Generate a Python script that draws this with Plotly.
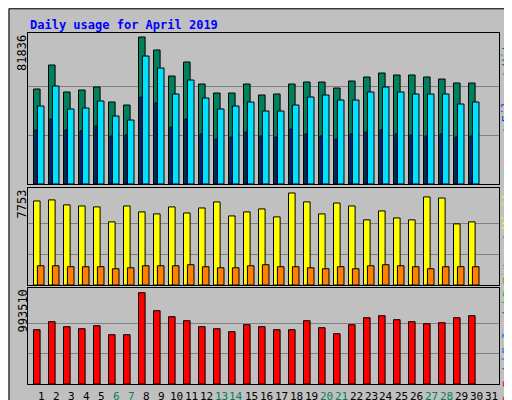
import plotly.graph_objects as go

# Daily usage for April 2019
days = list(range(1, 31))
hits = [52890, 66250, 51220, 52330, 54000, 45650, 43980, 81836, 74600, 60120,
        67920, 55670, 50660, 50660, 55670, 49550, 50100, 55670, 56780, 56780,
        53440, 57340, 59570, 61790, 60680, 60680, 59570, 58450, 56230, 56230]
files = [43420, 54560, 41750, 42310, 46210, 37860, 35630, 71260, 64580, 50100,
         57900, 47880, 41750, 43420, 45650, 40640, 40640, 43980, 48430, 49550,
         46760, 46760, 51220, 54000, 51220, 50100, 50100, 50100, 44540, 45650]
pages = [30060, 36190, 30060, 29510, 32290, 26720, 27280, 48430, 45090, 31730,
         36190, 27840, 25050, 26170, 28950, 26720, 26170, 30620, 27840, 26720,
         25050, 27840, 28950, 30060, 27840, 27280, 26720, 27840, 26170, 26720]
visits = [7080, 7170, 6750, 6660, 6580, 5320, 6660, 6160, 5990, 6580,
          6070, 6490, 7000, 5820, 6160, 6410, 5740, 7753, 7000, 5990,
          6910, 6660, 5490, 6240, 5650, 5490, 7420, 7330, 5150, 5320]
sites = [1620, 1620, 1540, 1540, 1540, 1370, 1450, 1620, 1620, 1620,
         1710, 1540, 1450, 1450, 1620, 1710, 1540, 1540, 1450, 1370,
         1540, 1370, 1620, 1710, 1620, 1540, 1370, 1540, 1540, 1540]
kbytes = [590800, 677800, 623400, 601700, 634300, 536400, 536400, 993510, 797500, 732200,
          688700, 623400, 601700, 569000, 645200, 623400, 590800, 590800, 688700, 612500,
          547300, 645200, 721300, 743100, 699600, 677800, 656100, 666900, 721300, 743100]
day_labels = [str(d) for d in range(1, 32)]
weekend = [6, 7, 13, 14, 20, 21, 27, 28]

FONT = "DejaVu Sans Mono"
BG = "#C0C0C0"

fig = go.Figure()

def bars(y, color, offset, width, axis):
    fig.add_trace(go.Bar(x=days, y=y, marker=dict(color=color, line=dict(color="black", width=1)),
                         offset=offset, width=width, xaxis="x" + axis, yaxis="y" + axis,
                         showlegend=False, hoverinfo="y"))

bars(hits, "#00805C", -0.5, 0.44, "")
bars(files, "#00E0FF", -0.24, 0.44, "")
bars(pages, "#0040FF", -0.4, 0.13, "")
bars(visits, "#FFFF00", -0.5, 0.44, "2")
bars(sites, "#FF8000", -0.24, 0.44, "2")
bars(kbytes, "#FF0000", -0.5, 0.44, "3")

xr = [0.133, 31.533]

xbase = dict(range=xr, showgrid=False, zeroline=False, showline=True, linecolor="black",
             mirror=True, domain=[20 / 512, 491 / 512], fixedrange=True)

def yax(mx, top, dom):
    return dict(range=[0, top], domain=dom, tickvals=[mx / 3, mx * 2 / 3], showticklabels=False,
                gridcolor="#808080", gridwidth=1, zeroline=False, showline=True,
                linecolor="black", mirror=True, ticks="")

fig.update_layout(
    width=512, height=400, margin=dict(l=0, r=0, t=0, b=0),
    paper_bgcolor=BG, plot_bgcolor=BG, barmode="overlay",
    font=dict(family=FONT, size=11, color="black"),
    xaxis=dict(xbase, anchor="y", showticklabels=False),
    xaxis2=dict(xbase, anchor="y2", showticklabels=False),
    xaxis3=dict(xbase, anchor="y3", showticklabels=False),
    yaxis=yax(81836, 84063, [1 - 176 / 400, 1 - 25 / 400]),
    yaxis2=yax(7753, 8174, [1 - 277 / 400, 1 - 180 / 400]),
    yaxis3=yax(993510, 1044650, [1 - 376 / 400, 1 - 280 / 400]),
)

# day labels under the bottom panel
for i, d in enumerate(day_labels):
    fig.add_annotation(text=d, x=i + 1, y=1 - 388 / 400, xref="x3", yref="paper",
                       showarrow=False, xanchor="center", yanchor="middle",
                       font=dict(size=11, family=FONT,
                                 color="#00805C" if int(d) in weekend else "black"))

fig.add_annotation(text="<b>Daily usage for April 2019</b>", x=20 / 512, y=1 - 8 / 400,
                   xref="paper", yref="paper", xanchor="left", yanchor="top", showarrow=False,
                   font=dict(size=12, color="#0000FF", family=FONT))

for txt, ytop in [("81836", 25), ("7753", 180), ("993510", 280)]:
    fig.add_annotation(text=txt, x=14 / 512, y=1 - ytop / 400, xref="paper", yref="paper",
                       textangle=-90, xanchor="center", yanchor="top", showarrow=False,
                       font=dict(size=12, family=FONT))

# right-hand vertical legends, pieces stacked bottom to top
CH = 7.0
right = [
    ([("Pages", "#00E0FF"), (" / ", "#505050"), ("Files", "#0040FF"), (" / ", "#505050"),
      ("Hits", "#00805C")], 100),
    ([("Sites", "#FF8000"), (" / ", "#505050"), ("Visits", "#FFFF00")], 228),
    ([("kB F", "#FF0000"), (" / ", "#505050"), ("kB In", "#0080FF"), (" / ", "#505050"),
      ("kB Out", "#00C000")], 328),
]
for pieces, yc in right:
    total = sum(len(t) for t, _ in pieces) * CH
    ybot = yc + total / 2
    for t, col in pieces:
        h = len(t) * CH
        mid = ybot - h / 2
        ybot -= h
        if t.strip() == "/":
            t = "/"
        fig.add_annotation(text=t, x=499 / 512, y=1 - mid / 400, xref="paper", yref="paper",
                           textangle=-90, xanchor="center", yanchor="middle", showarrow=False,
                           font=dict(size=12, family=FONT, color=col))

# outer bevelled frame
fig.add_shape(type="rect", xref="paper", yref="paper", x0=0.002, y0=0.002, x1=0.998, y1=0.998,
              line=dict(color="black", width=1))
fig.add_shape(type="line", xref="paper", yref="paper", x0=0.006, y0=0.006, x1=0.994, y1=0.006,
              line=dict(color="#808080", width=3))
fig.add_shape(type="line", xref="paper", yref="paper", x0=0.994, y0=0.006, x1=0.994, y1=0.994,
              line=dict(color="#808080", width=3))

fig.write_html("out.html")
